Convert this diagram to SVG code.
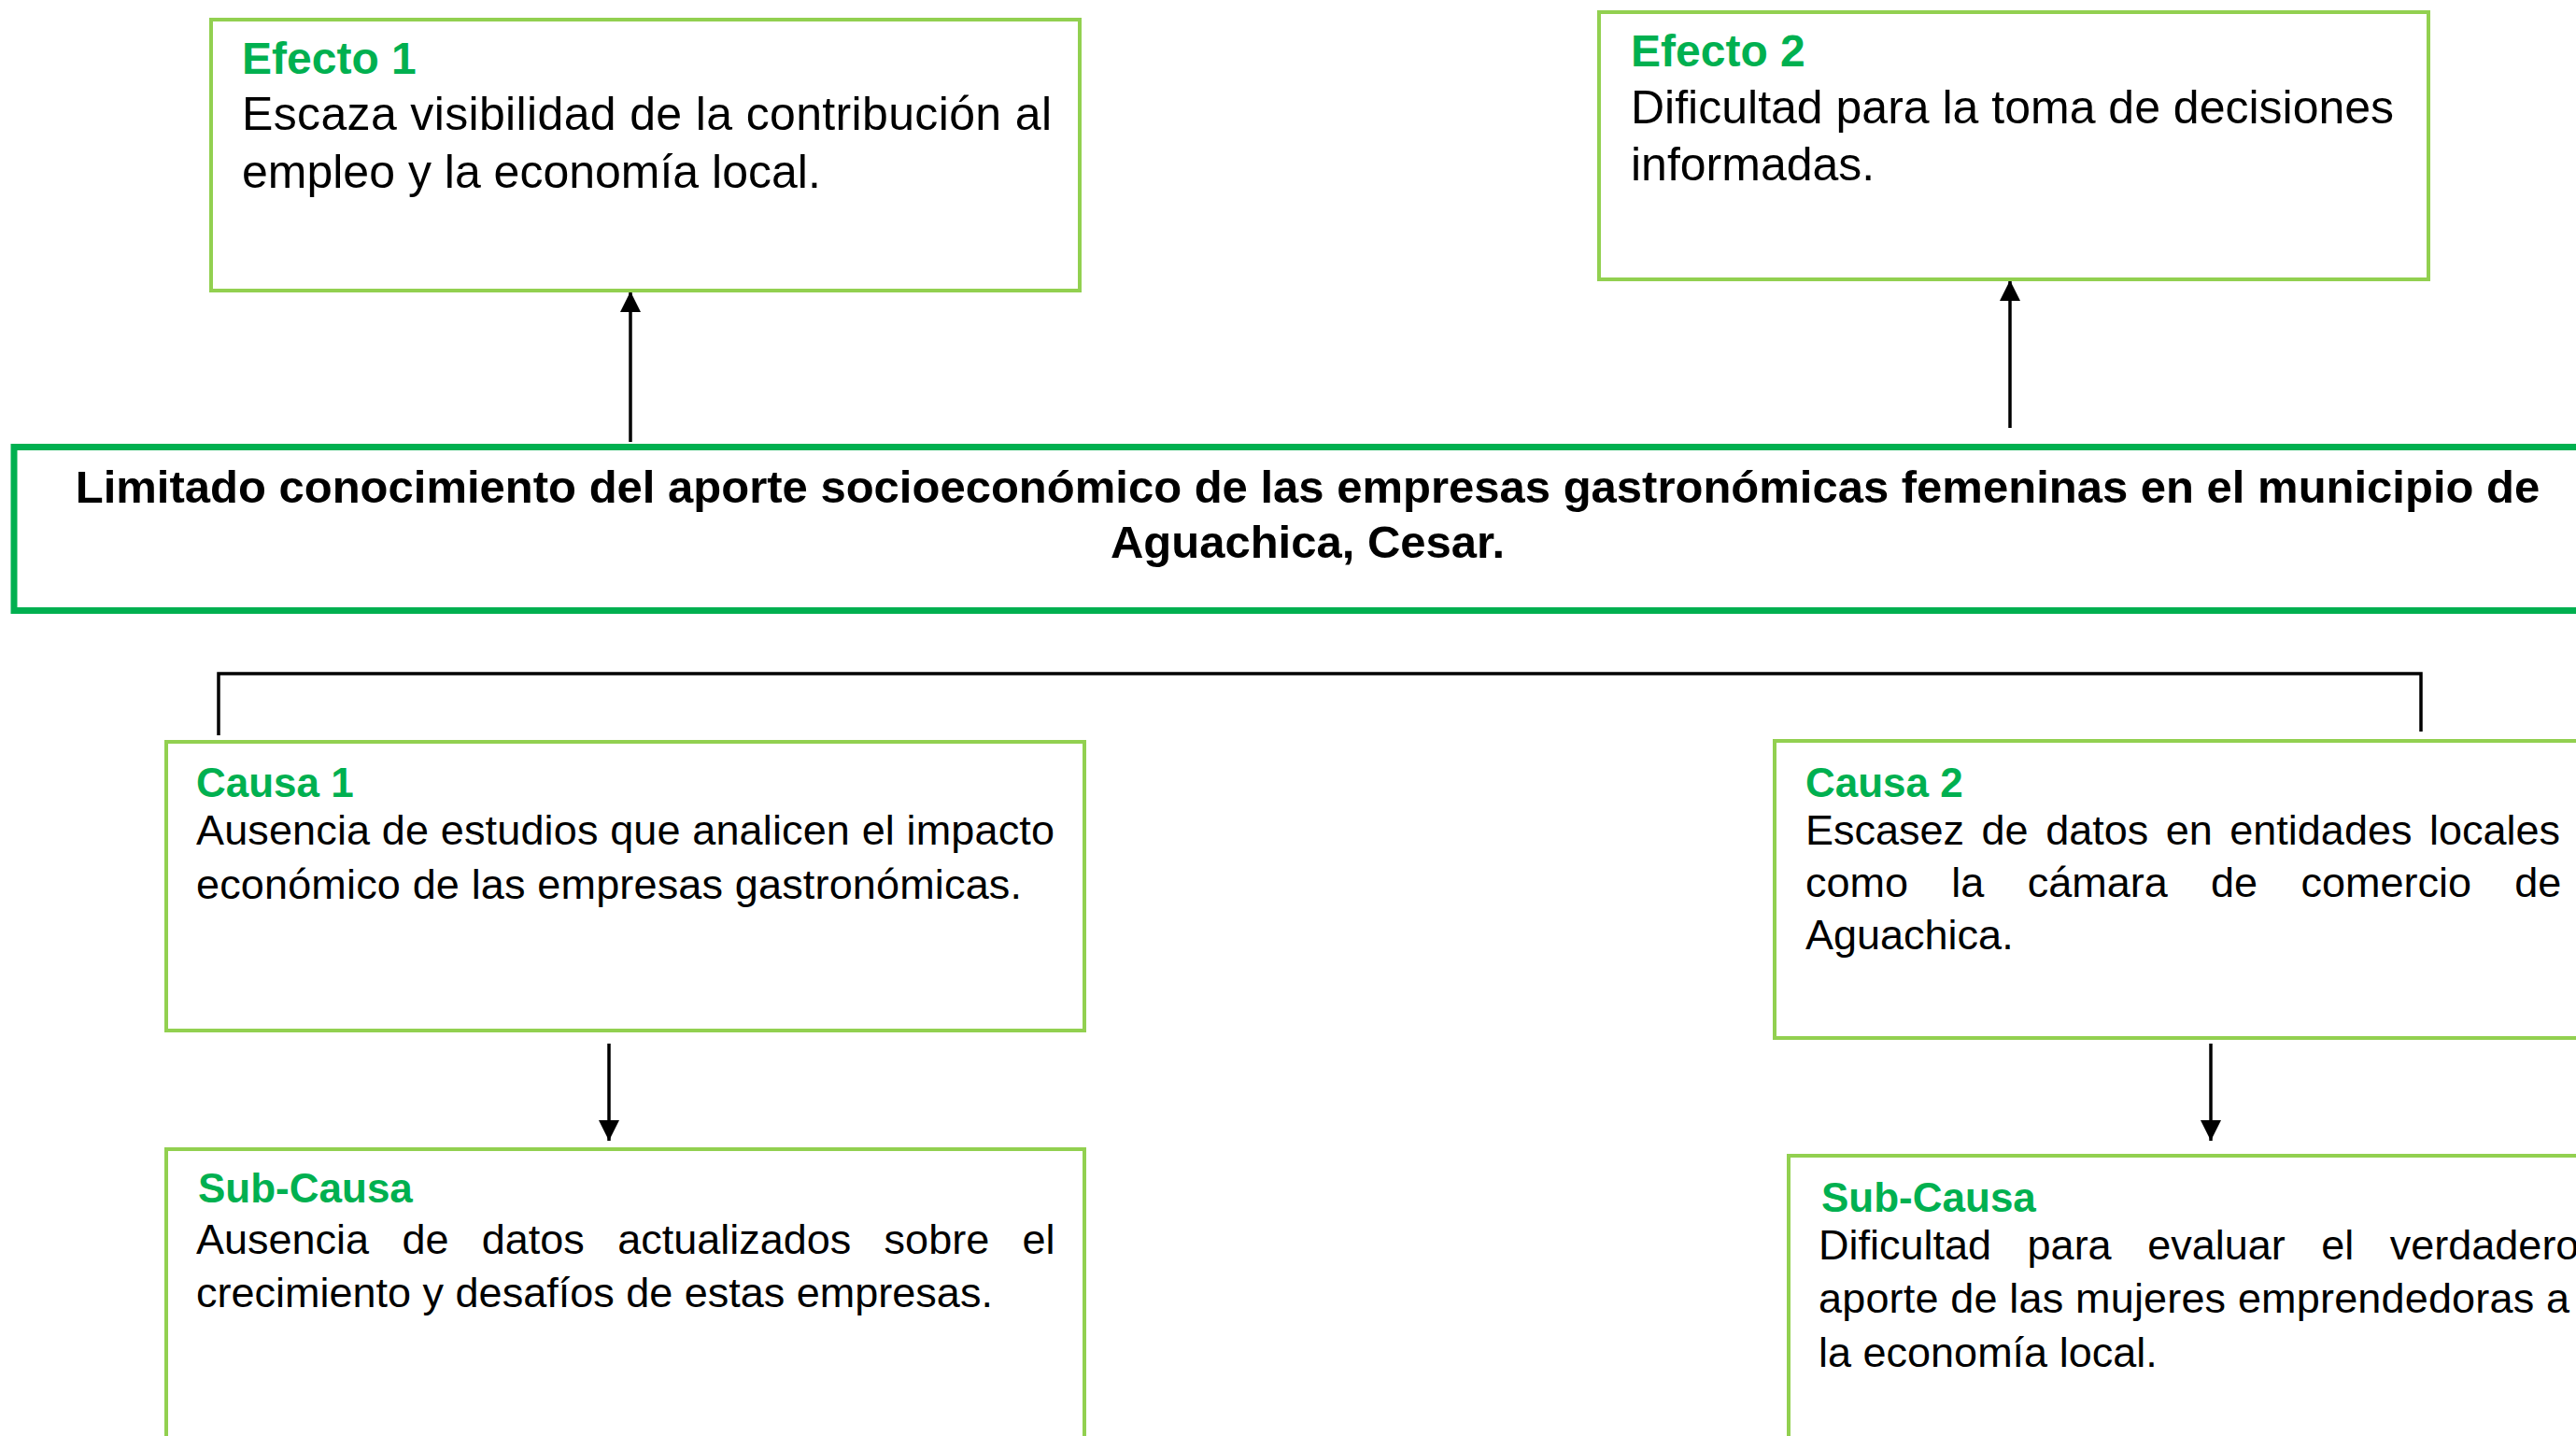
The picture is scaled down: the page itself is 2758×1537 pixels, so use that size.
<svg xmlns="http://www.w3.org/2000/svg" width="2758" height="1537" viewBox="0 0 2758 1537">
<style>
.box{fill:#fff;stroke:#92D050;stroke-width:4}
.main{fill:#fff;stroke:#00B050;stroke-width:7}
.title{font-family:"Liberation Sans",Arial,sans-serif;font-weight:bold;fill:#00B050}
.body{font-family:"Liberation Sans",Arial,sans-serif;fill:#000}
.mt{font-family:"Liberation Sans",Arial,sans-serif;font-weight:bold;font-size:49px;fill:#000}
.conn{fill:none;stroke:#000;stroke-width:3.5}
</style>
<defs>
<marker id="ah" markerUnits="userSpaceOnUse" markerWidth="22" markerHeight="22" refX="22" refY="11" orient="auto">
<path d="M0,0 L22,11 L0,22 z" fill="#000"/>
</marker>
</defs>
<rect width="2758" height="1537" fill="#fff"/>
<g id="connectors">
<line class="conn" x1="675" y1="473" x2="675" y2="312" marker-end="url(#ah)"/>
<line class="conn" x1="2152" y1="458" x2="2152" y2="300" marker-end="url(#ah)"/>
<polyline class="conn" points="234,787 234,721 2592,721 2592,783"/>
<line class="conn" x1="652" y1="1117" x2="652" y2="1221" marker-end="url(#ah)"/>
<line class="conn" x1="2367" y1="1117" x2="2367" y2="1221" marker-end="url(#ah)"/>
</g>
<g id="efecto1">
<rect class="box" x="226" y="21" width="930" height="290"/>
<text class="title" x="259" y="79" font-size="48">Efecto 1</text>
<text class="body" font-size="50" x="259" y="139" textLength="867" lengthAdjust="spacing">Escaza visibilidad de la contribución al</text>
<text class="body" font-size="50" x="259" y="201">empleo y la economía local.</text>
</g>
<g id="efecto2">
<rect class="box" x="1712" y="13" width="888" height="286"/>
<text class="title" x="1746" y="71" font-size="48">Efecto 2</text>
<text class="body" font-size="50" x="1746" y="132">Dificultad para la toma de decisiones</text>
<text class="body" font-size="50" x="1746" y="193">informadas.</text>
</g>
<g id="problema">
<rect class="main" x="15" y="478.5" width="2775" height="175"/>
<text class="mt" x="1400" y="538" text-anchor="middle">Limitado conocimiento del aporte socioeconómico de las empresas gastronómicas femeninas en el municipio de</text>
<text class="mt" x="1400" y="597" text-anchor="middle">Aguachica, Cesar.</text>
</g>
<g id="causa1">
<rect class="box" x="178" y="794" width="983" height="309"/>
<text class="title" x="210" y="853" font-size="44">Causa 1</text>
<text class="body" font-size="45" x="210" y="904" textLength="919" lengthAdjust="spacing">Ausencia de estudios que analicen el impacto</text>
<text class="body" font-size="45" x="210" y="962" textLength="884" lengthAdjust="spacing">económico de las empresas gastronómicas.</text>
</g>
<g id="causa2">
<rect class="box" x="1900" y="793" width="900" height="318"/>
<text class="title" x="1933" y="853" font-size="44">Causa 2</text>
<text class="body" font-size="45" x="1933" y="904" word-spacing="6">Escasez de datos en entidades locales</text>
<text class="body" font-size="45" x="1933" y="960" word-spacing="33.8">como la cámara de comercio de</text>
<text class="body" font-size="45" x="1933" y="1016">Aguachica.</text>
</g>
<g id="subcausa1">
<rect class="box" x="178" y="1230" width="983" height="340"/>
<text class="title" x="212" y="1287" font-size="44">Sub-Causa</text>
<text class="body" font-size="45" x="210" y="1342" word-spacing="22.8">Ausencia de datos actualizados sobre el</text>
<text class="body" font-size="45" x="210" y="1399">crecimiento y desafíos de estas empresas.</text>
</g>
<g id="subcausa2">
<rect class="box" x="1915" y="1237" width="900" height="340"/>
<text class="title" x="1950" y="1297" font-size="44">Sub-Causa</text>
<text class="body" font-size="45" x="1947" y="1348" word-spacing="26">Dificultad para evaluar el verdadero</text>
<text class="body" font-size="45" x="1947" y="1405" textLength="804" lengthAdjust="spacing">aporte de las mujeres emprendedoras a</text>
<text class="body" font-size="45" x="1947" y="1463">la economía local.</text>
</g>
</svg>
